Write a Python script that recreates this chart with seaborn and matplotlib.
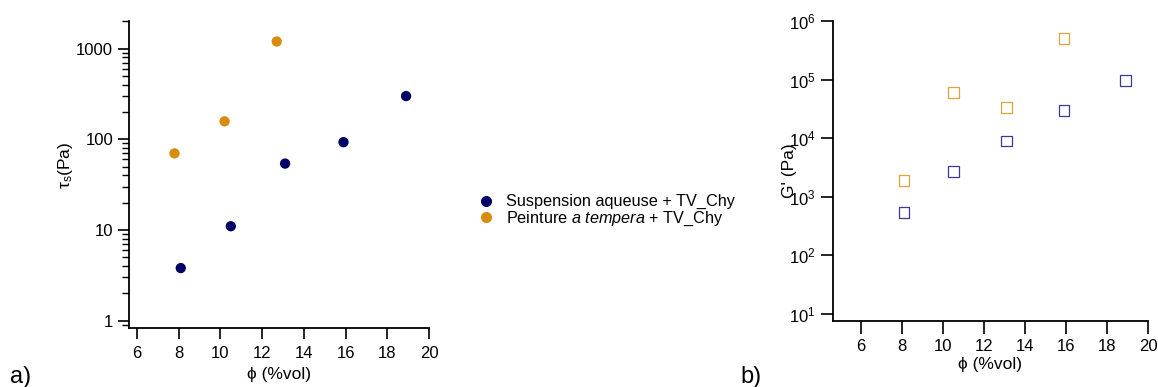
import matplotlib
matplotlib.use("Agg")
import matplotlib.pyplot as plt
import matplotlib.ticker as mticker
from matplotlib.lines import Line2D
import numpy as np
import pandas as pd
import seaborn as sns

# a) yield stress vs volume fraction
phi_susp_a = [8.1, 10.5, 13.1, 15.9, 18.9]
tau_susp = [3.8, 11, 54, 93, 300]
phi_temp_a = [7.8, 10.2, 12.7]
tau_temp = [70, 158, 1200]

# b) storage modulus vs volume fraction
phi_susp_b = [8.1, 10.5, 13.1, 15.9, 18.9]
g_susp = [540, 2700, 9000, 30000, 97000]
phi_temp_b = [8.1, 10.5, 13.1, 15.9]
g_temp = [1900, 60000, 33000, 500000]

labels = ["Suspension aqueuse + TV_Chy", "Peinture $\\it{a\\ tempera}$ + TV_Chy"]
navy = "#000066"
orange = "#d88c0c"
navy_open = "#3a3a98"
orange_open = "#e2a23a"

df_a = pd.DataFrame({
    "phi": phi_susp_a + phi_temp_a,
    "val": tau_susp + tau_temp,
    "serie": [labels[0]] * len(phi_susp_a) + [labels[1]] * len(phi_temp_a),
})
df_b = pd.DataFrame({
    "phi": phi_susp_b + phi_temp_b,
    "val": g_susp + g_temp,
    "serie": [labels[0]] * len(phi_susp_b) + [labels[1]] * len(phi_temp_b),
})

sns.set_style("ticks")
plt.rcParams['font.family'] = ['Liberation Sans', 'DejaVu Sans']
plt.rcParams['mathtext.fontset'] = 'custom'
plt.rcParams['mathtext.rm'] = 'Liberation Sans'
plt.rcParams['mathtext.it'] = 'Liberation Sans:italic'
plt.rcParams['font.size'] = 12
plt.rcParams['axes.linewidth'] = 1.3
for k in ['text.color', 'axes.labelcolor', 'xtick.color', 'ytick.color', 'axes.edgecolor']:
    plt.rcParams[k] = 'black'

fig = plt.figure(figsize=(11.58, 3.87), dpi=100)
ax1 = fig.add_axes([0.1114, 0.1525, 0.2591, 0.7933])
ax2 = fig.add_axes([0.7191, 0.1705, 0.2723, 0.7752])

sns.scatterplot(data=df_a, x="phi", y="val", hue="serie", palette=[navy, orange],
                s=55, linewidth=0, legend=False, ax=ax1)
ax1.set_yscale("log")
ax1.set_xlim(5.62, 20)
ax1.set_ylim(0.83, 2020)
ax1.set_xticks(np.arange(6, 21, 2))
ax1.yaxis.set_major_locator(mticker.FixedLocator([1, 10, 100, 1000]))
ax1.yaxis.set_major_formatter(mticker.FixedFormatter(["1", "10", "100", "1000"]))
ax1.yaxis.set_minor_locator(mticker.LogLocator(base=10, subs=np.arange(2, 10)))
ax1.yaxis.set_minor_formatter(mticker.NullFormatter())
ax1.set_xlabel("ϕ (%vol)", fontsize=12.5)
ax1.set_ylabel("τ$_\\mathregular{s}$(Pa)", fontsize=12.5)
ax1.yaxis.set_label_coords(-0.18, 0.53)
ax1.xaxis.labelpad = 4
ax1.tick_params(axis="both", which="major", length=8, width=1.2, labelsize=12)
ax1.tick_params(axis="x", pad=5)
ax1.tick_params(axis="y", which="minor", length=5, width=1.0)

sns.scatterplot(data=df_b, x="phi", y="val", hue="serie", palette=[navy_open, orange_open],
                marker="s", s=60, linewidth=0.9, legend=False, ax=ax2)
# seaborn fills by hue; turn markers into open squares with hue-coloured edges
coll = ax2.collections[0]
fc = coll.get_facecolors()
coll.set_edgecolors(fc)
coll.set_facecolors("none")
ax2.set_yscale("log")
ax2.set_xlim(4.63, 20)
ax2.set_ylim(7.6, 1e6)
ax2.set_xticks(np.arange(6, 21, 2))
ax2.yaxis.set_major_locator(mticker.FixedLocator([1e1, 1e2, 1e3, 1e4, 1e5, 1e6]))
ax2.yaxis.set_minor_locator(mticker.NullLocator())
ax2.set_xlabel("ϕ (%vol)", fontsize=12.5)
ax2.set_ylabel("G' (Pa)", fontsize=12.5)
ax2.yaxis.set_label_coords(-0.113, 0.5)
ax2.xaxis.labelpad = 2
ax2.tick_params(axis="both", which="major", length=9, width=1.2, labelsize=12)
ax2.tick_params(axis="x", pad=4)

for ax in (ax1, ax2):
    sns.despine(ax=ax)

handles = [Line2D([], [], marker="o", linestyle="", color=c, markersize=7)
           for c in (navy, orange)]
fig.legend(handles, labels, loc="center left", bbox_to_anchor=(0.399, 0.455),
           frameon=False, fontsize=11.7, handletextpad=0.6, labelspacing=0.0,
           handlelength=1.2)

fig.text(0.009, 0.01, "a)", fontsize=17)
fig.text(0.639, 0.01, "b)", fontsize=17)

fig.savefig("out.png", dpi=100)
